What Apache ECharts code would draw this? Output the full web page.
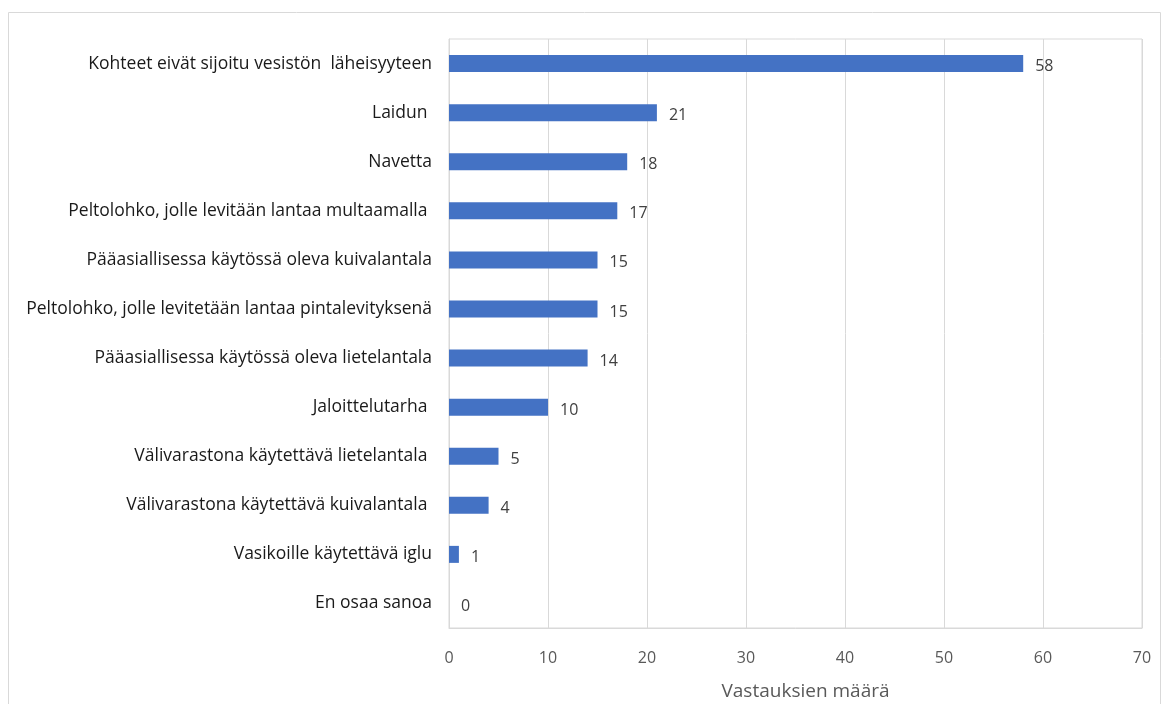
<!DOCTYPE html>
<html>
<head>
<meta charset="utf-8">
<script src="https://cdn.jsdelivr.net/npm/echarts@6/dist/echarts.min.js"></script>
<style>
html,body{margin:0;padding:0;background:#fff;}
#c{width:1169px;height:704px;}
</style>
</head>
<body>
<div id="c"></div>
<script>
var categories = [
  "Kohteet eivät sijoitu vesistön  läheisyyteen",
  "Laidun ",
  "Navetta",
  "Peltolohko, jolle levitään lantaa multaamalla ",
  "Pääasiallisessa käytössä oleva kuivalantala",
  "Peltolohko, jolle levitetään lantaa pintalevityksenä",
  "Pääasiallisessa käytössä oleva lietelantala",
  "Jaloittelutarha ",
  "Välivarastona käytettävä lietelantala ",
  "Välivarastona käytettävä kuivalantala ",
  "Vasikoille käytettävä iglu",
  "En osaa sanoa"
];
var values = [58, 21, 18, 17, 15, 15, 14, 10, 5, 4, 1, 0];
var xTicks = { min: 0, max: 70, interval: 10 };
var axisTitle = "Vastauksien määrä";

var chart = echarts.init(document.getElementById('c'), null, {renderer: 'canvas'});
var font = "'Open Sans', 'Liberation Sans', sans-serif";
chart.setOption({
  animation: false,
  textStyle: { fontFamily: font },
  graphic: [{
    type: 'rect',
    shape: { x: 8.5, y: 12.5, width: 1152, height: 700 },
    style: { fill: 'none', stroke: '#d9d9d9', lineWidth: 1 },
    silent: true
  }],
  grid: {
    left: 449, right: 27, top: 39, bottom: 76,
    show: true, borderColor: '#d9d9d9', borderWidth: 1,
    containLabel: false,
    outerBoundsMode: 'none'
  },
  xAxis: {
    type: 'value',
    min: xTicks.min, max: xTicks.max, interval: xTicks.interval,
    axisLine: { show: true, lineStyle: { color: '#d9d9d9' } },
    axisTick: { show: false },
    splitLine: { show: true, lineStyle: { color: '#d9d9d9', width: 1 } },
    axisLabel: { color: '#595959', fontSize: 16, margin: 22, fontFamily: font },
    name: axisTitle,
    nameLocation: 'middle',
    nameGap: 54,
    nameTextStyle: { color: '#595959', fontSize: 19, fontFamily: font, padding: [0, 0, 0, 20] }
  },
  yAxis: {
    type: 'category',
    data: categories,
    inverse: true,
    axisLine: { show: true, lineStyle: { color: '#d9d9d9' } },
    axisTick: { show: false },
    axisLabel: { color: '#1a1a1a', fontSize: 17.5, margin: 17, fontFamily: font }
  },
  series: [{
    type: 'bar',
    data: values,
    barWidth: 17,
    itemStyle: { color: '#4472C4' },
    label: {
      show: true, position: 'right', distance: 12,
      color: '#404040', fontSize: 16, fontFamily: font,
      offset: [0, 3]
    }
  }]
});
</script>
</body>
</html>
